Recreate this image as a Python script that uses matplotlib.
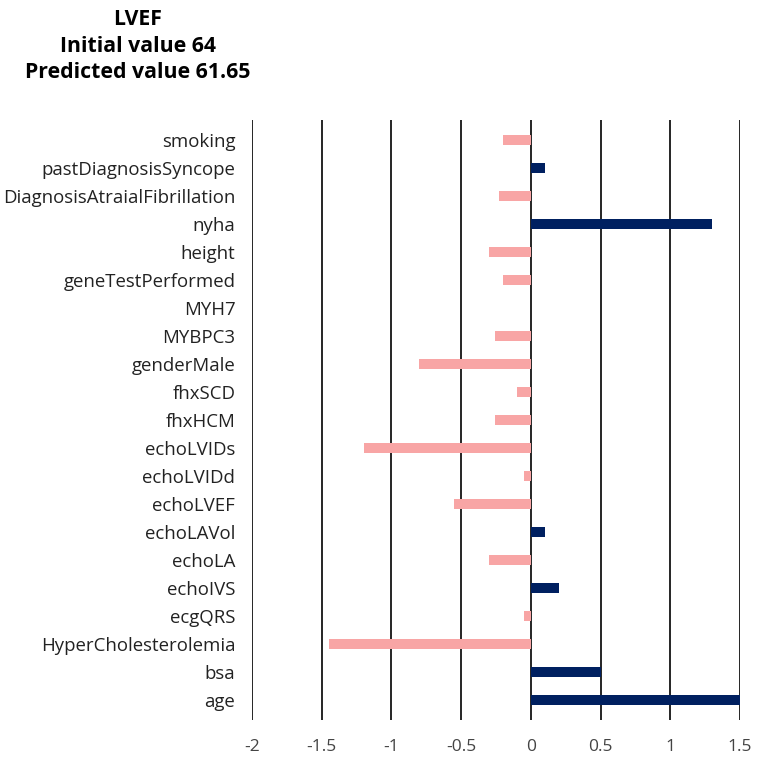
# SHAP-style contributions for LVEF prediction

import numpy as np
import matplotlib.pyplot as plt

plt.rcParams['font.family'] = ['Open Sans', 'DejaVu Sans']

features = ['smoking', 'pastDiagnosisSyncope', 'DiagnosisAtraialFibrillation', 'nyha',
            'height', 'geneTestPerformed', 'MYH7', 'MYBPC3', 'genderMale', 'fhxSCD',
            'fhxHCM', 'echoLVIDs', 'echoLVIDd', 'echoLVEF', 'echoLAVol', 'echoLA',
            'echoIVS', 'ecgQRS', 'HyperCholesterolemia', 'bsa', 'age']
values = [-0.2, 0.1, -0.23, 1.3,
          -0.3, -0.2, 0.0, -0.26, -0.8, -0.1,
          -0.26, -1.2, -0.05, -0.55, 0.1, -0.3,
          0.2, -0.05, -1.45, 0.5, 1.5]
xticks = [-2, -1.5, -1, -0.5, 0, 0.5, 1, 1.5]
xticklabels = ['-2', '-1.5', '-1', '-0.5', '0', '0.5', '1', '1.5']

posColor = '#002060'
negColor = '#F8A5A5'

fig = plt.figure(figsize = (7.62, 7.62), dpi = 100)
ax = fig.add_axes([252 / 762, 42 / 762, 488 / 762, 600 / 762])

y = np.arange(len(features))[::-1]
colors = [posColor if v > 0 else negColor for v in values]
ax.barh(y, values, height = 0.36, color = colors, zorder = 3)

ax.set_xlim(-2, 1.5)
ax.set_ylim(-0.7, len(features) - 0.3)
ax.set_xticks(xticks)
ax.set_xticklabels(xticklabels)
ax.set_yticks(y)
ax.set_yticklabels(features)
ax.tick_params(axis = 'both', length = 0)
ax.tick_params(axis = 'x', pad = 14, labelsize = 12.5, colors = '#444444')
ax.tick_params(axis = 'y', pad = 12, labelsize = 13.4, colors = '#222222')
for s in ax.spines.values():
    s.set_visible(False)
for t in xticks:
    ax.axvline(t, color = 'black', linewidth = 1.2, zorder = 2)

fig.text(138 / 762, 1 - 46 / 762, 'LVEF\nInitial value 64\nPredicted value 61.65',
         ha = 'center', va = 'center', fontsize = 15.3, fontweight = 'bold',
         linespacing = 1.33)

fig.savefig('out.png', dpi = 100)
